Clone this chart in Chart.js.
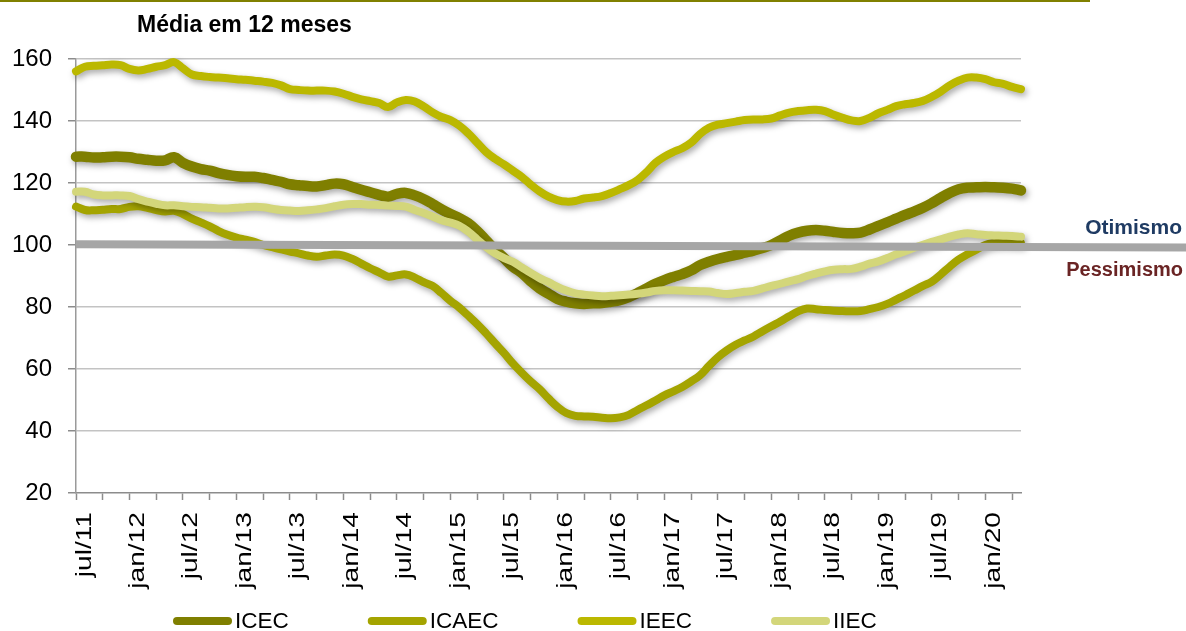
<!DOCTYPE html>
<html>
<head>
<meta charset="utf-8">
<script src="https://cdn.jsdelivr.net/npm/chart.js@4.4.1/dist/chart.umd.min.js"></script>
<style>
html,body{margin:0;padding:0;background:#fff;}
#wrap{position:relative;width:1186px;height:631px;}
</style>
</head>
<body>
<div id="wrap"><canvas id="c" width="1186" height="631"></canvas></div>
<script>
// ---- data ----
const monthNames = ['jan','fev','mar','abr','mai','jun','jul','ago','set','out','nov','dez'];
const startMonth = 6;   // jul
const startYear = 11;   // 2011
const monthCount = 107; // jul/11 .. mai/20
const categories = [];
for (let i = 0; i < monthCount; i++) {
  const m = (startMonth + i) % 12;
  const y = startYear + Math.floor((startMonth + i) / 12);
  categories.push(monthNames[m] + '/' + String(y).padStart(2, '0'));
}
const seriesNames = ['ICEC', 'ICAEC', 'IEEC', 'IIEC'];

const icec = [
  128.5,128.5,128.2,128.3,128.5,128.5,128.3,127.8,127.5,127.2,
  127.3,128.3,126.5,125.3,124.5,124.0,123.2,122.6,122.2,122.0,
  122.0,121.6,121.0,120.4,119.6,119.3,119.0,118.9,119.3,119.8,
  119.6,118.7,117.8,117.0,116.2,115.6,116.5,116.8,116.0,114.8,
  113.2,111.5,110.0,108.7,107.0,104.5,101.5,98.5,95.8,93.0,
  91.0,88.3,86.0,84.3,82.6,81.7,81.2,81.0,81.2,81.3,
  81.7,82.2,83.2,84.5,86.0,87.5,88.7,89.7,90.6,91.8,
  93.5,94.6,95.5,96.2,96.8,97.5,98.2,99.0,100.0,101.5,
  103.0,104.0,104.6,104.8,104.6,104.2,103.9,103.8,104.0,105.0,
  106.2,107.3,108.5,109.7,110.8,112.0,113.5,115.2,116.8,118.0,
  118.5,118.6,118.7,118.6,118.5,118.2,117.6
];
const icaec = [
  112.4,111.3,111.2,111.4,111.6,111.6,112.3,112.5,112.0,111.3,
  110.8,111.0,110.0,108.5,107.3,106.0,104.5,103.3,102.4,101.7,
  101.0,100.0,99.3,98.6,97.9,97.3,96.6,96.2,96.6,96.9,
  96.6,95.5,94.0,92.5,91.2,89.8,90.2,90.5,89.5,88.0,
  86.8,84.5,82.0,79.8,77.2,74.5,71.5,68.3,65.2,61.8,
  58.8,56.0,53.5,50.5,47.8,45.8,44.9,44.7,44.6,44.3,
  44.1,44.4,45.2,46.8,48.3,49.8,51.5,52.8,54.2,56.0,
  58.0,61.0,63.8,66.0,67.8,69.2,70.5,72.2,73.8,75.3,
  77.0,78.6,79.5,79.3,79.0,78.8,78.7,78.6,78.7,79.3,
  80.0,81.0,82.4,83.8,85.3,86.8,88.2,90.5,93.0,95.3,
  97.0,98.5,100.0,100.6,100.8,100.7,100.6
];
const ieec = [
  156.0,157.5,157.8,158.0,158.2,158.0,156.8,156.3,156.8,157.5,
  158.0,159.0,157.0,155.0,154.5,154.2,154.0,153.8,153.5,153.3,
  153.0,152.7,152.3,151.5,150.3,150.0,149.8,149.8,149.8,149.5,
  148.8,147.8,147.0,146.4,145.8,144.5,146.0,146.8,146.3,144.7,
  142.8,141.3,140.3,138.5,136.0,133.0,130.0,127.8,126.0,124.0,
  122.0,119.5,117.3,115.6,114.5,114.0,114.2,115.0,115.3,115.8,
  116.8,118.0,119.3,121.0,123.5,126.5,128.5,130.0,131.2,133.0,
  135.8,137.8,138.8,139.3,139.8,140.3,140.5,140.5,140.8,141.8,
  142.7,143.2,143.5,143.6,143.2,142.0,141.0,140.2,140.0,141.0,
  142.5,143.6,144.8,145.4,145.8,146.5,147.8,149.5,151.5,153.0,
  154.0,154.0,153.5,152.5,152.0,151.0,150.3
];
const iiec = [
  117.2,117.2,116.3,116.0,116.0,116.0,115.8,114.8,114.0,113.3,
  112.8,112.8,112.5,112.3,112.2,112.0,111.8,111.8,112.0,112.2,
  112.3,112.2,111.7,111.3,111.1,111.0,111.2,111.5,111.9,112.5,
  113.0,113.2,113.2,113.0,112.9,112.7,112.6,112.4,111.3,110.3,
  109.2,108.0,107.2,106.2,104.3,101.8,99.3,97.3,95.8,94.6,
  92.8,91.0,89.3,88.0,86.5,85.3,84.4,84.0,83.7,83.5,
  83.6,83.8,84.0,84.3,84.7,85.2,85.4,85.4,85.3,85.2,
  85.1,85.0,84.5,84.2,84.5,84.9,85.2,86.0,86.8,87.5,
  88.3,89.0,90.0,90.8,91.5,92.0,92.2,92.3,93.0,94.0,
  94.7,95.8,97.0,98.0,99.1,100.1,101.0,101.8,102.7,103.4,
  103.8,103.5,103.2,103.1,103.0,102.9,102.7
];
const seriesValues = [icec, icaec, ieec, iiec];
const seriesColors = ['#7f7f00', '#a4a400', '#bbb800', '#d3d67a'];
const seriesWidths = [10.5, 8, 8, 8];

const yTicks = [20, 40, 60, 80, 100, 120, 140, 160];
const labelEvery = 6;   // label each 6 months
const tickEvery = 3;    // tick mark each 3 months
const referenceStart = 100.25; // "Otimismo / Pessimismo" divider (value 100)
const referenceEnd = 99.2;
const titleText = 'Média em 12 meses';
const optimismText = 'Otimismo';
const pessimismText = 'Pessimismo';

// ---- chart ----
const FONT = '"Liberation Sans", Arial, sans-serif';

const shadowPlugin = {
  id: 'shadow',
  beforeDatasetDraw(chart) {
    const ctx = chart.ctx;
    ctx.save();
    ctx.shadowColor = 'rgba(0,0,0,0.35)';
    ctx.shadowBlur = 6;
    ctx.shadowOffsetX = 2;
    ctx.shadowOffsetY = 3;
  },
  afterDatasetDraw(chart) {
    chart.ctx.restore();
  }
};

const decorPlugin = {
  id: 'decor',
  afterDatasetsDraw(chart) {
    const ctx = chart.ctx;
    const y = chart.scales.y;
    const area = chart.chartArea;
    ctx.save();
    ctx.strokeStyle = '#a6a6a6';
    ctx.lineWidth = 8;
    ctx.lineCap = 'butt';
    ctx.beginPath();
    ctx.moveTo(area.left, y.getPixelForValue(referenceStart));
    ctx.lineTo(chart.width, y.getPixelForValue(referenceEnd));
    ctx.stroke();
    ctx.restore();
  },
  afterDraw(chart) {
    const ctx = chart.ctx;
    const x = chart.scales.x;
    const area = chart.chartArea;
    ctx.save();
    // top rule
    ctx.strokeStyle = '#808000';
    ctx.lineWidth = 2;
    ctx.beginPath();
    ctx.moveTo(0, 1);
    ctx.lineTo(1090, 1);
    ctx.stroke();
    // title
    ctx.fillStyle = '#000';
    ctx.font = 'bold 23px ' + FONT;
    ctx.textAlign = 'left';
    ctx.textBaseline = 'alphabetic';
    ctx.fillText(titleText, 137, 32);
    // optimism / pessimism
    ctx.textAlign = 'right';
    ctx.font = 'bold 21px ' + FONT;
    ctx.fillStyle = '#1f3b63';
    ctx.fillText(optimismText, 1182, 234);
    ctx.font = 'bold 20px ' + FONT;
    ctx.fillStyle = '#6a2424';
    ctx.fillText(pessimismText, 1183, 276);
    // x labels (rotated, stretched as in original)
    ctx.font = '22px ' + FONT;
    ctx.fillStyle = '#000';
    ctx.textAlign = 'right';
    ctx.textBaseline = 'alphabetic';
    categories.forEach((lab, i) => {
      if (i % labelEvery !== 0) return;
      const px = x.getPixelForValue(i);
      ctx.save();
      ctx.translate(px + 14.5, area.bottom + 19);
      ctx.rotate(-Math.PI / 2);
      ctx.scale(1.28, 1);
      ctx.fillText(lab, 0, 0);
      ctx.restore();
    });
    // legend
    ctx.font = '22.5px ' + FONT;
    ctx.textAlign = 'left';
    let lx = 173;
    const ly = 621;
    seriesNames.forEach((name, k) => {
      ctx.strokeStyle = seriesColors[k];
      ctx.lineWidth = 8;
      ctx.lineCap = 'round';
      ctx.beginPath();
      ctx.moveTo(lx + 4, ly);
      ctx.lineTo(lx + 55, ly);
      ctx.stroke();
      ctx.fillStyle = '#000';
      ctx.fillText(name, lx + 62, 628);
      lx += 62 + ctx.measureText(name).width + 79;
    });
    ctx.restore();
  }
};

new Chart(document.getElementById('c'), {
  type: 'line',
  data: {
    labels: categories,
    datasets: seriesNames.map((name, k) => ({
      label: name,
      data: seriesValues[k],
      borderColor: seriesColors[k],
      backgroundColor: seriesColors[k],
      borderWidth: seriesWidths[k],
      pointRadius: 0,
      tension: 0.4,
      borderCapStyle: 'round',
      borderJoinStyle: 'round',
      fill: false,
      clip: false,
      order: 4 - k
    }))
  },
  options: {
    responsive: false,
    animation: false,
    devicePixelRatio: 1,
    layout: { padding: { top: 59, right: 165, bottom: 0, left: 0 } },
    plugins: {
      legend: { display: false },
      title: { display: false },
      tooltip: { enabled: false }
    },
    scales: {
      x: {
        type: 'category',
        offset: false,
        afterFit(scale) { scale.height = 138; },
        border: { display: true, color: '#8c8c8c', width: 1.5 },
        grid: {
          drawOnChartArea: false,
          drawTicks: true,
          tickLength: 7,
          tickWidth: 1.5,
          tickColor: (c) => (c.index % tickEvery === 0 ? '#8c8c8c' : 'rgba(0,0,0,0)')
        },
        ticks: {
          autoSkip: false,
          maxRotation: 0,
          minRotation: 0,
          callback: () => ''
        }
      },
      y: {
        min: yTicks[0],
        max: yTicks[yTicks.length - 1],
        afterFit(scale) { scale.width = 76; },
        afterBuildTicks(scale) { scale.ticks = yTicks.map(v => ({ value: v })); },
        border: { display: true, color: '#9a9a9a', width: 1.5 },
        grid: {
          color: (c) => (c.tick && c.tick.value === yTicks[0] ? 'rgba(0,0,0,0)' : '#c3c3c3'),
          lineWidth: 1.5,
          drawTicks: true,
          tickLength: 8,
          tickColor: '#8c8c8c',
          tickWidth: 1.5
        },
        ticks: {
          padding: 16,
          color: '#000',
          font: { family: FONT, size: 24 },
          callback: (v) => String(v)
        }
      }
    }
  },
  plugins: [shadowPlugin, decorPlugin]
});
</script>
</body>
</html>
